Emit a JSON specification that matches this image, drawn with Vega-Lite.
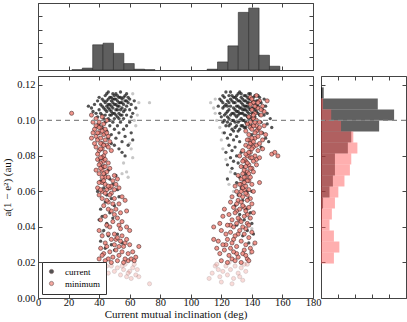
{
"$schema":"https://vega.github.io/schema/vega-lite/v6.json",
"padding":{"left":1,"top":2,"right":0,"bottom":0},
"config":{
 "font":"Liberation Serif",
 "view":{"stroke":"#444","strokeWidth":1},
 "axis":{"domain":false,"grid":false,"tickSize":-4,"tickColor":"#444","labelFont":"Liberation Serif","labelFontSize":10.5,"labelColor":"#111","titleFont":"Liberation Serif","titleFontSize":11,"titleFontWeight":"normal","titleColor":"#111","labelPadding":7,"labelFlush":false,"labelOverlap":false,"labelBound":false}
},
"datasets":{
"tophist":[{"lo":22.2,"hi":29.0,"n":1},{"lo":29.0,"hi":35.8,"n":7},{"lo":35.8,"hi":42.6,"n":94},{"lo":42.6,"hi":49.4,"n":100},{"lo":49.4,"hi":56.2,"n":62},{"lo":56.2,"hi":63.0,"n":24},{"lo":63.0,"hi":69.8,"n":3},{"lo":69.8,"hi":76.6,"n":1},{"lo":110.7,"hi":117.5,"n":3},{"lo":117.5,"hi":124.3,"n":30},{"lo":124.3,"hi":131.1,"n":90},{"lo":131.1,"hi":137.9,"n":215},{"lo":137.9,"hi":144.7,"n":231},{"lo":144.7,"hi":151.5,"n":55},{"lo":151.5,"hi":158.3,"n":14}],
"rcur":[{"lo":0.0318,"hi":0.0380,"n":1},{"lo":0.0380,"hi":0.0442,"n":1},{"lo":0.0442,"hi":0.0504,"n":3},{"lo":0.0504,"hi":0.0566,"n":6},{"lo":0.0566,"hi":0.0628,"n":25},{"lo":0.0628,"hi":0.0690,"n":35},{"lo":0.0690,"hi":0.0752,"n":41},{"lo":0.0752,"hi":0.0814,"n":41},{"lo":0.0814,"hi":0.0876,"n":79},{"lo":0.0876,"hi":0.0938,"n":89},{"lo":0.0938,"hi":0.1000,"n":171},{"lo":0.1000,"hi":0.1062,"n":215},{"lo":0.1062,"hi":0.1124,"n":167},{"lo":0.1124,"hi":0.1186,"n":8}],
"rmin":[{"lo":0.0194,"hi":0.0256,"n":38},{"lo":0.0256,"hi":0.0318,"n":54},{"lo":0.0318,"hi":0.0380,"n":38},{"lo":0.0380,"hi":0.0442,"n":25},{"lo":0.0442,"hi":0.0504,"n":32},{"lo":0.0504,"hi":0.0566,"n":41},{"lo":0.0566,"hi":0.0628,"n":51},{"lo":0.0628,"hi":0.0690,"n":69},{"lo":0.0690,"hi":0.0752,"n":85},{"lo":0.0752,"hi":0.0814,"n":89},{"lo":0.0814,"hi":0.0876,"n":107},{"lo":0.0876,"hi":0.0938,"n":95},{"lo":0.0938,"hi":0.1000,"n":59},{"lo":0.1000,"hi":0.1062,"n":30},{"lo":0.1062,"hi":0.1124,"n":6}],
"cur":[
{"i":33,"a":0.108},{"i":35,"a":0.107},{"i":37,"a":0.109},{"i":38,"a":0.104},{"i":39,"a":0.111},{"i":40,"a":0.106},{"i":41,"a":0.109},{"i":42,"a":0.112},{"i":42,"a":0.103},{"i":43,"a":0.107},{"i":44,"a":0.110},{"i":44,"a":0.114},{"i":45,"a":0.105},{"i":45,"a":0.108},{"i":46,"a":0.112},{"i":46,"a":0.101},{"i":47,"a":0.109},{"i":47,"a":0.106},{"i":48,"a":0.113},{"i":48,"a":0.103},{"i":49,"a":0.110},{"i":49,"a":0.107},{"i":50,"a":0.112},{"i":50,"a":0.104},{"i":51,"a":0.109},{"i":51,"a":0.115},{"i":52,"a":0.106},{"i":52,"a":0.111},{"i":53,"a":0.108},{"i":53,"a":0.113},{"i":54,"a":0.103},{"i":54,"a":0.110},{"i":55,"a":0.107},{"i":55,"a":0.112},{"i":56,"a":0.109},{"i":56,"a":0.105},{"i":57,"a":0.111},{"i":57,"a":0.114},{"i":58,"a":0.108},{"i":58,"a":0.103},{"i":59,"a":0.110},{"i":60,"a":0.106},{"i":60,"a":0.112},{"i":61,"a":0.109},{"i":62,"a":0.104},{"i":63,"a":0.111},{"i":64,"a":0.107},{"i":43,"a":0.101},{"i":46,"a":0.116},{"i":50,"a":0.109},{"i":52,"a":0.102},{"i":54,"a":0.116},{"i":47,"a":0.113},{"i":44,"a":0.106},{"i":41,"a":0.104},{"i":39,"a":0.102},{"i":36,"a":0.105},{"i":49,"a":0.115},{"i":53,"a":0.104},{"i":56,"a":0.101},{"i":58,"a":0.115},{"i":45,"a":0.111},{"i":51,"a":0.106},{"i":48,"a":0.108},{"i":55,"a":0.103},{"i":50,"a":0.101},{"i":42,"a":0.108},{"i":40,"a":0.113},{"i":59,"a":0.113},{"i":61,"a":0.102},
{"i":43,"a":0.111},{"i":44,"a":0.103},{"i":45,"a":0.115},{"i":46,"a":0.107},{"i":47,"a":0.103},{"i":48,"a":0.111},{"i":49,"a":0.104},{"i":50,"a":0.114},{"i":51,"a":0.112},{"i":52,"a":0.108},{"i":53,"a":0.110},{"i":54,"a":0.106},{"i":55,"a":0.110},{"i":56,"a":0.113},{"i":57,"a":0.106},{"i":58,"a":0.111},{"i":52,"a":0.114},{"i":48,"a":0.105},{"i":46,"a":0.109},{"i":51,"a":0.103},{"i":54,"a":0.113},{"i":47,"a":0.100},{"i":53,"a":0.101},{"i":49,"a":0.112},
{"i":40,"a":0.098},{"i":42,"a":0.096},{"i":44,"a":0.099},{"i":45,"a":0.094},{"i":47,"a":0.097},{"i":48,"a":0.092},{"i":49,"a":0.099},{"i":50,"a":0.095},{"i":51,"a":0.090},{"i":52,"a":0.097},{"i":53,"a":0.093},{"i":54,"a":0.099},{"i":55,"a":0.088},{"i":56,"a":0.095},{"i":58,"a":0.097},{"i":57,"a":0.091},{"i":60,"a":0.099},{"i":46,"a":0.090},{"i":43,"a":0.092},{"i":50,"a":0.086},{"i":53,"a":0.084},{"i":55,"a":0.082},{"i":48,"a":0.087},{"i":61,"a":0.093},{"i":57,"a":0.080},{"i":59,"a":0.086},{"i":62,"a":0.089},
{"i":40,"a":0.078},{"i":42,"a":0.074},{"i":44,"a":0.070},{"i":41,"a":0.066},{"i":46,"a":0.072},{"i":43,"a":0.062},{"i":47,"a":0.067},{"i":39,"a":0.060},{"i":45,"a":0.058},{"i":49,"a":0.064},{"i":51,"a":0.069},{"i":48,"a":0.056},{"i":52,"a":0.061},{"i":44,"a":0.054},{"i":50,"a":0.052},{"i":41,"a":0.050},{"i":53,"a":0.057},{"i":42,"a":0.046},{"i":47,"a":0.048},{"i":40,"a":0.044},{"i":45,"a":0.042},{"i":49,"a":0.045},{"i":43,"a":0.038},{"i":46,"a":0.035},{"i":41,"a":0.032},{"i":48,"a":0.030},{"i":52,"a":0.036},{"i":50,"a":0.027},{"i":44,"a":0.028},{"i":55,"a":0.031},
{"i":118,"a":0.108},{"i":119,"a":0.104},{"i":120,"a":0.111},{"i":121,"a":0.107},{"i":121,"a":0.099},{"i":122,"a":0.113},{"i":122,"a":0.103},{"i":123,"a":0.109},{"i":123,"a":0.097},{"i":124,"a":0.111},{"i":124,"a":0.105},{"i":125,"a":0.101},{"i":125,"a":0.114},{"i":126,"a":0.108},{"i":126,"a":0.098},{"i":127,"a":0.111},{"i":127,"a":0.104},{"i":128,"a":0.107},{"i":128,"a":0.113},{"i":128,"a":0.100},{"i":129,"a":0.110},{"i":129,"a":0.096},{"i":130,"a":0.105},{"i":130,"a":0.112},{"i":130,"a":0.102},{"i":131,"a":0.108},{"i":131,"a":0.115},{"i":131,"a":0.099},{"i":132,"a":0.104},{"i":132,"a":0.111},{"i":133,"a":0.107},{"i":133,"a":0.101},{"i":133,"a":0.113},{"i":134,"a":0.109},{"i":134,"a":0.097},{"i":134,"a":0.104},{"i":135,"a":0.111},{"i":135,"a":0.106},{"i":135,"a":0.100},{"i":136,"a":0.114},{"i":136,"a":0.108},{"i":136,"a":0.103},{"i":137,"a":0.110},{"i":137,"a":0.098},{"i":137,"a":0.105},{"i":138,"a":0.112},{"i":138,"a":0.107},{"i":138,"a":0.101},{"i":139,"a":0.109},{"i":139,"a":0.115},{"i":140,"a":0.104},{"i":140,"a":0.110},{"i":141,"a":0.107},{"i":141,"a":0.113},{"i":142,"a":0.102},{"i":142,"a":0.109},{"i":143,"a":0.111},{"i":143,"a":0.105},{"i":144,"a":0.108},{"i":145,"a":0.113},{"i":145,"a":0.103},{"i":146,"a":0.110},{"i":147,"a":0.106},{"i":148,"a":0.112},{"i":149,"a":0.108},{"i":150,"a":0.104},{"i":126,"a":0.116},{"i":132,"a":0.116},{"i":129,"a":0.103},{"i":124,"a":0.099},{"i":127,"a":0.095},{"i":131,"a":0.094},{"i":136,"a":0.096},{"i":140,"a":0.097},{"i":122,"a":0.108},{"i":125,"a":0.106},{"i":120,"a":0.102},{"i":133,"a":0.097},{"i":139,"a":0.102},{"i":144,"a":0.114},{"i":141,"a":0.100},{"i":146,"a":0.099},{"i":148,"a":0.103},{"i":150,"a":0.098},{"i":152,"a":0.101},{"i":153,"a":0.096},
{"i":119,"a":0.112},{"i":121,"a":0.114},{"i":123,"a":0.116},{"i":124,"a":0.108},{"i":125,"a":0.110},{"i":126,"a":0.103},{"i":127,"a":0.114},{"i":127,"a":0.100},{"i":128,"a":0.110},{"i":129,"a":0.106},{"i":129,"a":0.113},{"i":130,"a":0.108},{"i":130,"a":0.097},{"i":131,"a":0.103},{"i":131,"a":0.111},{"i":132,"a":0.107},{"i":132,"a":0.100},{"i":133,"a":0.110},{"i":133,"a":0.104},{"i":134,"a":0.112},{"i":134,"a":0.106},{"i":134,"a":0.100},{"i":135,"a":0.103},{"i":135,"a":0.108},{"i":135,"a":0.114},{"i":136,"a":0.111},{"i":136,"a":0.099},{"i":136,"a":0.106},{"i":137,"a":0.108},{"i":137,"a":0.113},{"i":137,"a":0.102},{"i":138,"a":0.104},{"i":138,"a":0.110},{"i":138,"a":0.115},{"i":139,"a":0.106},{"i":139,"a":0.112},{"i":140,"a":0.107},{"i":140,"a":0.101},{"i":141,"a":0.104},{"i":141,"a":0.111},{"i":142,"a":0.106},{"i":142,"a":0.114},{"i":143,"a":0.108},{"i":144,"a":0.104},{"i":144,"a":0.111},{"i":122,"a":0.100},{"i":123,"a":0.104},{"i":125,"a":0.097},{"i":128,"a":0.094},{"i":132,"a":0.095},{"i":135,"a":0.096},{"i":138,"a":0.098},{"i":126,"a":0.112},{"i":129,"a":0.099},{"i":131,"a":0.105},{"i":133,"a":0.115},{"i":130,"a":0.114},{"i":128,"a":0.104},{"i":124,"a":0.102},{"i":121,"a":0.110},
{"i":122,"a":0.093},{"i":124,"a":0.090},{"i":126,"a":0.092},{"i":128,"a":0.089},{"i":130,"a":0.091},{"i":132,"a":0.088},{"i":125,"a":0.086},{"i":127,"a":0.083},{"i":129,"a":0.085},{"i":123,"a":0.082},{"i":126,"a":0.079},{"i":128,"a":0.077},{"i":130,"a":0.080},{"i":131,"a":0.076},{"i":133,"a":0.082},{"i":127,"a":0.073},{"i":129,"a":0.070},{"i":124,"a":0.075},{"i":134,"a":0.074},{"i":132,"a":0.068},{"i":136,"a":0.070},{"i":147,"a":0.093},{"i":149,"a":0.090},{"i":151,"a":0.088},{"i":146,"a":0.085},{"i":140,"a":0.092},
{"i":130,"a":0.065},{"i":133,"a":0.062},{"i":135,"a":0.066},{"i":131,"a":0.058},{"i":134,"a":0.055},{"i":137,"a":0.060},{"i":129,"a":0.052},{"i":136,"a":0.050},{"i":138,"a":0.056},{"i":132,"a":0.047},{"i":135,"a":0.044},{"i":139,"a":0.048},{"i":130,"a":0.041},{"i":137,"a":0.038},{"i":140,"a":0.042},{"i":134,"a":0.035},{"i":138,"a":0.031},{"i":141,"a":0.036},{"i":124,"a":0.067},{"i":140,"a":0.060}
],
"curf":[
{"i":63,"a":0.100},{"i":64,"a":0.097},{"i":60,"a":0.087},{"i":62,"a":0.079},{"i":58,"a":0.071},{"i":59,"a":0.068},{"i":56,"a":0.076},{"i":61,"a":0.084},{"i":45,"a":0.040},{"i":42,"a":0.037},{"i":66,"a":0.110},{"i":73,"a":0.110},{"i":62,"a":0.115},{"i":65,"a":0.103},{"i":55,"a":0.070},
{"i":113,"a":0.110},{"i":115,"a":0.107},{"i":116,"a":0.112},{"i":117,"a":0.100},{"i":119,"a":0.096},{"i":121,"a":0.093},{"i":121,"a":0.084},{"i":123,"a":0.078},{"i":126,"a":0.071},{"i":125,"a":0.064},{"i":137,"a":0.050},{"i":140,"a":0.039},{"i":141,"a":0.030},{"i":139,"a":0.025},{"i":138,"a":0.045},{"i":128,"a":0.060},{"i":116,"a":0.104},{"i":120,"a":0.089}
],
"min":[
{"i":22,"a":0.104},{"i":35,"a":0.103},{"i":36,"a":0.099},{"i":38,"a":0.101},{"i":39,"a":0.097},{"i":37,"a":0.095},{"i":40,"a":0.099},{"i":41,"a":0.096},{"i":42,"a":0.102},{"i":43,"a":0.098},{"i":44,"a":0.095},{"i":45,"a":0.100},
{"i":36,"a":0.093},{"i":38,"a":0.091},{"i":39,"a":0.089},{"i":40,"a":0.093},{"i":41,"a":0.090},{"i":42,"a":0.087},{"i":43,"a":0.092},{"i":44,"a":0.089},{"i":45,"a":0.086},{"i":46,"a":0.091},{"i":38,"a":0.085},{"i":40,"a":0.083},{"i":42,"a":0.084},{"i":44,"a":0.082},{"i":46,"a":0.085},{"i":39,"a":0.081},{"i":41,"a":0.087},{"i":47,"a":0.088},{"i":35,"a":0.090},{"i":37,"a":0.087},{"i":43,"a":0.080},{"i":45,"a":0.093},{"i":48,"a":0.083},
{"i":38,"a":0.097},{"i":40,"a":0.096},{"i":42,"a":0.094},{"i":39,"a":0.093},{"i":41,"a":0.084},{"i":43,"a":0.086},{"i":42,"a":0.079},{"i":41,"a":0.076},{"i":43,"a":0.074},{"i":42,"a":0.065},{"i":44,"a":0.068},{"i":48,"a":0.059},{"i":46,"a":0.054},{"i":50,"a":0.047},{"i":53,"a":0.041},{"i":51,"a":0.033},{"i":55,"a":0.035},{"i":57,"a":0.031},{"i":53,"a":0.029},{"i":46,"a":0.022},{"i":59,"a":0.021},
{"i":39,"a":0.078},{"i":40,"a":0.075},{"i":41,"a":0.079},{"i":42,"a":0.072},{"i":43,"a":0.077},{"i":44,"a":0.074},{"i":40,"a":0.070},{"i":42,"a":0.068},{"i":41,"a":0.073},{"i":43,"a":0.066},{"i":45,"a":0.071},{"i":44,"a":0.064},{"i":40,"a":0.065},{"i":46,"a":0.068},{"i":47,"a":0.062},{"i":49,"a":0.066},{"i":50,"a":0.069},{"i":39,"a":0.062},{"i":42,"a":0.060},{"i":45,"a":0.061},{"i":48,"a":0.063},{"i":51,"a":0.064},{"i":52,"a":0.067},{"i":41,"a":0.061},{"i":43,"a":0.070},{"i":46,"a":0.076},{"i":38,"a":0.072},{"i":44,"a":0.078},{"i":47,"a":0.073},{"i":53,"a":0.062},{"i":46,"a":0.063},{"i":50,"a":0.061},
{"i":40,"a":0.058},{"i":42,"a":0.056},{"i":44,"a":0.059},{"i":43,"a":0.052},{"i":45,"a":0.055},{"i":47,"a":0.058},{"i":49,"a":0.053},{"i":48,"a":0.049},{"i":50,"a":0.056},{"i":51,"a":0.050},{"i":53,"a":0.053},{"i":55,"a":0.057},{"i":44,"a":0.046},{"i":46,"a":0.050},{"i":52,"a":0.045},{"i":54,"a":0.048},{"i":57,"a":0.055},{"i":41,"a":0.044},{"i":45,"a":0.041},{"i":49,"a":0.043},{"i":55,"a":0.043},{"i":58,"a":0.049},{"i":47,"a":0.040},
{"i":40,"a":0.038},{"i":42,"a":0.035},{"i":44,"a":0.031},{"i":46,"a":0.036},{"i":48,"a":0.033},{"i":50,"a":0.030},{"i":52,"a":0.034},{"i":54,"a":0.032},{"i":56,"a":0.029},{"i":58,"a":0.033},{"i":60,"a":0.030},{"i":41,"a":0.028},{"i":43,"a":0.025},{"i":45,"a":0.029},{"i":47,"a":0.026},{"i":49,"a":0.023},{"i":51,"a":0.027},{"i":53,"a":0.024},{"i":55,"a":0.026},{"i":57,"a":0.022},{"i":59,"a":0.025},{"i":61,"a":0.022},{"i":63,"a":0.021},{"i":40,"a":0.022},{"i":44,"a":0.021},{"i":48,"a":0.020},{"i":52,"a":0.021},{"i":56,"a":0.020},{"i":62,"a":0.026},{"i":66,"a":0.029},{"i":60,"a":0.038},{"i":54,"a":0.039},{"i":64,"a":0.023},{"i":50,"a":0.036},{"i":58,"a":0.040},{"i":42,"a":0.024},
{"i":139,"a":0.113},{"i":141,"a":0.110},{"i":143,"a":0.114},{"i":145,"a":0.111},{"i":147,"a":0.108},{"i":140,"a":0.106},{"i":142,"a":0.104},{"i":144,"a":0.107},{"i":146,"a":0.103},{"i":148,"a":0.105},{"i":138,"a":0.102},{"i":141,"a":0.101},{"i":143,"a":0.100},{"i":145,"a":0.099},{"i":150,"a":0.111},{"i":139,"a":0.109},
{"i":140,"a":0.112},{"i":142,"a":0.108},{"i":144,"a":0.110},{"i":146,"a":0.106},{"i":141,"a":0.103},{"i":143,"a":0.097},{"i":139,"a":0.099},{"i":144,"a":0.095},{"i":142,"a":0.090},{"i":140,"a":0.087},{"i":138,"a":0.089},{"i":141,"a":0.085},{"i":139,"a":0.082},{"i":137,"a":0.080},{"i":143,"a":0.078},{"i":136,"a":0.077},{"i":138,"a":0.075},{"i":140,"a":0.073},{"i":134,"a":0.070},{"i":136,"a":0.068},{"i":138,"a":0.066},{"i":133,"a":0.064},{"i":135,"a":0.061},{"i":137,"a":0.058},{"i":131,"a":0.055},{"i":133,"a":0.054},{"i":135,"a":0.051},{"i":130,"a":0.049},{"i":137,"a":0.047},{"i":132,"a":0.044},{"i":126,"a":0.041},{"i":136,"a":0.039},{"i":131,"a":0.036},{"i":128,"a":0.033},{"i":123,"a":0.030},{"i":135,"a":0.027},{"i":130,"a":0.025},{"i":127,"a":0.022},
{"i":137,"a":0.098},{"i":139,"a":0.096},{"i":141,"a":0.097},{"i":143,"a":0.094},{"i":145,"a":0.096},{"i":138,"a":0.092},{"i":140,"a":0.090},{"i":142,"a":0.093},{"i":144,"a":0.091},{"i":146,"a":0.093},{"i":136,"a":0.094},{"i":137,"a":0.089},{"i":139,"a":0.087},{"i":141,"a":0.088},{"i":143,"a":0.086},{"i":147,"a":0.089},{"i":136,"a":0.086},{"i":138,"a":0.085},{"i":145,"a":0.087},{"i":140,"a":0.095},{"i":142,"a":0.099},{"i":148,"a":0.097},{"i":149,"a":0.092},
{"i":134,"a":0.083},{"i":136,"a":0.081},{"i":138,"a":0.082},{"i":140,"a":0.084},{"i":142,"a":0.080},{"i":144,"a":0.083},{"i":135,"a":0.078},{"i":137,"a":0.076},{"i":139,"a":0.079},{"i":141,"a":0.077},{"i":143,"a":0.075},{"i":133,"a":0.074},{"i":135,"a":0.072},{"i":137,"a":0.071},{"i":139,"a":0.073},{"i":141,"a":0.071},{"i":134,"a":0.077},{"i":136,"a":0.074},{"i":138,"a":0.070},{"i":140,"a":0.079},{"i":145,"a":0.079},{"i":153,"a":0.081},{"i":155,"a":0.082},{"i":157,"a":0.080},{"i":147,"a":0.084},{"i":132,"a":0.080},
{"i":131,"a":0.069},{"i":133,"a":0.067},{"i":135,"a":0.068},{"i":137,"a":0.066},{"i":139,"a":0.068},{"i":132,"a":0.064},{"i":134,"a":0.062},{"i":136,"a":0.063},{"i":138,"a":0.061},{"i":140,"a":0.064},{"i":130,"a":0.060},{"i":132,"a":0.058},{"i":134,"a":0.057},{"i":136,"a":0.059},{"i":139,"a":0.056},{"i":141,"a":0.060},{"i":129,"a":0.063},{"i":137,"a":0.055},{"i":135,"a":0.065},{"i":133,"a":0.060},{"i":145,"a":0.065},{"i":127,"a":0.057},
{"i":126,"a":0.054},{"i":128,"a":0.051},{"i":130,"a":0.053},{"i":132,"a":0.050},{"i":134,"a":0.052},{"i":136,"a":0.049},{"i":138,"a":0.051},{"i":140,"a":0.053},{"i":125,"a":0.047},{"i":127,"a":0.044},{"i":129,"a":0.048},{"i":131,"a":0.045},{"i":133,"a":0.043},{"i":135,"a":0.046},{"i":137,"a":0.042},{"i":139,"a":0.045},{"i":141,"a":0.048},{"i":124,"a":0.041},{"i":128,"a":0.040},{"i":134,"a":0.040},{"i":138,"a":0.041},{"i":122,"a":0.050},{"i":121,"a":0.046},{"i":130,"a":0.042},
{"i":120,"a":0.038},{"i":123,"a":0.036},{"i":126,"a":0.037},{"i":129,"a":0.035},{"i":132,"a":0.038},{"i":135,"a":0.036},{"i":138,"a":0.034},{"i":140,"a":0.037},{"i":118,"a":0.032},{"i":121,"a":0.030},{"i":124,"a":0.033},{"i":127,"a":0.031},{"i":130,"a":0.029},{"i":133,"a":0.032},{"i":136,"a":0.030},{"i":139,"a":0.028},{"i":115,"a":0.033},{"i":117,"a":0.028},{"i":119,"a":0.025},{"i":122,"a":0.027},{"i":125,"a":0.024},{"i":128,"a":0.026},{"i":131,"a":0.023},{"i":134,"a":0.025},{"i":137,"a":0.022},{"i":140,"a":0.026},{"i":120,"a":0.021},{"i":124,"a":0.020},{"i":129,"a":0.021},{"i":133,"a":0.020},{"i":136,"a":0.024},{"i":138,"a":0.021},{"i":126,"a":0.028},{"i":142,"a":0.031},{"i":115,"a":0.040},{"i":119,"a":0.042}
],
"minf":[
{"i":41,"a":0.018},{"i":43,"a":0.016},{"i":46,"a":0.014},{"i":48,"a":0.018},{"i":50,"a":0.015},{"i":52,"a":0.017},{"i":54,"a":0.013},{"i":56,"a":0.016},{"i":58,"a":0.012},{"i":60,"a":0.015},{"i":62,"a":0.017},{"i":64,"a":0.013},{"i":65,"a":0.016},{"i":57,"a":0.019},{"i":61,"a":0.011},{"i":73,"a":0.008},{"i":45,"a":0.018},{"i":55,"a":0.018},{"i":63,"a":0.019},{"i":59,"a":0.014},{"i":66,"a":0.012},
{"i":112,"a":0.011},{"i":114,"a":0.014},{"i":116,"a":0.018},{"i":118,"a":0.016},{"i":119,"a":0.012},{"i":121,"a":0.015},{"i":123,"a":0.018},{"i":124,"a":0.013},{"i":126,"a":0.016},{"i":128,"a":0.011},{"i":129,"a":0.018},{"i":131,"a":0.014},{"i":133,"a":0.017},{"i":134,"a":0.010},{"i":136,"a":0.015},{"i":137,"a":0.019},{"i":120,"a":0.009},{"i":127,"a":0.008},{"i":132,"a":0.012},{"i":135,"a":0.019},{"i":117,"a":0.019},{"i":125,"a":0.020}
],
"lim":[{"a":0.1}]
},
"spacing":6,
"bounds":"flush",
"resolve":{"legend":{"color":"independent"}},
"vconcat":[
 {
  "width":275,"height":67,
  "data":{"name":"tophist"},
  "layer":[
   {"mark":{"type":"rect","fill":"#5f5f5f","stroke":"#2a2a2a","strokeWidth":0.6},
    "encoding":{
     "x":{"field":"lo","type":"quantitative","scale":{"domain":[0,180],"nice":false},"axis":{"orient":"bottom","values":[0,20,40,60,80,100,120,140,160,180],"labels":false,"title":null}},
     "x2":{"field":"hi"},
     "y":{"field":"n","type":"quantitative","scale":{"domain":[0,250],"nice":false},"axis":{"orient":"left","values":[0,50,100,150,200,250],"labels":false,"title":null}},
     "y2":{"datum":0}}},
   {"mark":{"type":"rect","opacity":0},
    "encoding":{
     "x":{"field":"lo","type":"quantitative","axis":{"orient":"top","values":[0,20,40,60,80,100,120,140,160,180],"labels":false,"title":null}},
     "x2":{"field":"hi"},
     "y":{"field":"n","type":"quantitative","axis":{"orient":"right","values":[0,50,100,150,200,250],"labels":false,"title":null}},
     "y2":{"datum":0}}}
  ],
  "resolve":{"axis":{"x":"independent","y":"independent"}}
 },
 {
  "spacing":8,
  "bounds":"flush",
  "resolve":{"legend":{"color":"independent"}},
  "hconcat":[
   {
    "width":275,"height":222,
    "layer":[
     {"data":{"name":"curf"},"mark":{"type":"point","filled":true,"size":11,"color":"#000","opacity":0.22},
      "encoding":{
       "x":{"field":"i","type":"quantitative","scale":{"domain":[0,180],"nice":false},"axis":{"orient":"bottom","values":[0,20,40,60,80,100,120,140,160,180],"title":"Current mutual inclination (deg)","labelPadding":3,"titlePadding":1}},
       "y":{"field":"a","type":"quantitative","scale":{"domain":[0,0.125],"nice":false},"axis":{"orient":"left","values":[0,0.02,0.04,0.06,0.08,0.1,0.12],"format":".2f","title":"a(1 − e²) (au)","titlePadding":4}}}},
     {"data":{"name":"cur"},"mark":{"type":"point","filled":true,"size":11,"opacity":0.75},
      "encoding":{
       "x":{"field":"i","type":"quantitative","axis":{"orient":"top","values":[0,20,40,60,80,100,120,140,160,180],"labels":false,"title":null}},
       "y":{"field":"a","type":"quantitative","axis":{"orient":"right","values":[0,0.02,0.04,0.06,0.08,0.1,0.12],"labels":false,"title":null}},
       "color":{"datum":"current","type":"nominal","scale":{"domain":["current","minimum"],"range":["#1a1a1a","#f08a80"]},
        "legend":{"orient":"bottom-left","title":null,"offset":4,"strokeColor":"#333","fillColor":"#fff","padding":5,"labelFontSize":9,"labelFont":"Liberation Serif","symbolType":"circle","symbolSize":18,"symbolStrokeColor":"#3a1a1a","symbolStrokeWidth":0.6,"rowPadding":2,"labelOffset":9}}}},
     {"data":{"name":"minf"},"mark":{"type":"point","filled":true,"size":17,"color":"#f08a80","stroke":"#5a2a2a","strokeWidth":0.6,"opacity":0.3},
      "encoding":{
       "x":{"field":"i","type":"quantitative","axis":null},
       "y":{"field":"a","type":"quantitative","axis":null}}},
     {"data":{"name":"min"},"mark":{"type":"point","filled":true,"size":17,"stroke":"#3a1a1a","strokeWidth":0.6,"opacity":0.9},
      "encoding":{
       "x":{"field":"i","type":"quantitative","axis":null},
       "y":{"field":"a","type":"quantitative","axis":null},
       "color":{"datum":"minimum","type":"nominal",
        "legend":{"orient":"bottom-left","title":null,"offset":4,"strokeColor":"#333","fillColor":"#fff","padding":5,"labelFontSize":9,"labelFont":"Liberation Serif","symbolType":"circle","symbolSize":18,"symbolStrokeColor":"#3a1a1a","symbolStrokeWidth":0.6,"rowPadding":2,"labelOffset":9}}}},
     {"data":{"name":"lim"},"mark":{"type":"rule","color":"#888","strokeDash":[5,4],"strokeWidth":1.2},
      "encoding":{"y":{"field":"a","type":"quantitative","axis":null}}}
    ],
    "resolve":{"axis":{"x":"independent","y":"independent"}}
   },
   {
    "width":85,"height":222,
    "layer":[
     {"data":{"name":"rcur"},"mark":{"type":"rect","fill":"#000","opacity":0.62},
      "encoding":{
       "y":{"field":"lo","type":"quantitative","scale":{"domain":[0,0.125],"nice":false},"axis":{"orient":"left","values":[0,0.02,0.04,0.06,0.08,0.1,0.12],"labels":false,"title":null}},
       "y2":{"field":"hi"},
       "x":{"field":"n","type":"quantitative","scale":{"domain":[0,250],"nice":false},"axis":{"orient":"bottom","values":[0,50,100,150,200,250],"labels":false,"title":null}},
       "x2":{"datum":0}}},
     {"data":{"name":"rmin"},"mark":{"type":"rect","fill":"#ff6060","opacity":0.5},
      "encoding":{
       "y":{"field":"lo","type":"quantitative","axis":{"orient":"right","values":[0,0.02,0.04,0.06,0.08,0.1,0.12],"labels":false,"title":null}},
       "y2":{"field":"hi"},
       "x":{"field":"n","type":"quantitative","axis":{"orient":"top","values":[0,50,100,150,200,250],"labels":false,"title":null}},
       "x2":{"datum":0}}},
     {"data":{"name":"lim"},"mark":{"type":"rule","color":"#888","strokeDash":[5,4],"strokeWidth":1.2},
      "encoding":{"y":{"field":"a","type":"quantitative","axis":null}}}
    ],
    "resolve":{"axis":{"x":"independent","y":"independent"}}
   }
  ]
 }
]
}
